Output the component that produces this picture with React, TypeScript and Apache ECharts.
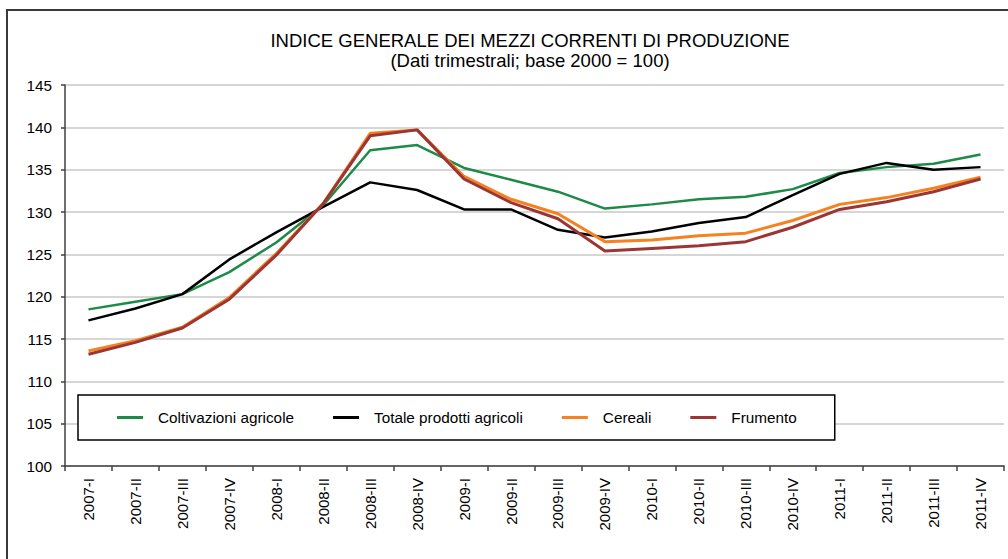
import React, { useEffect, useRef } from "react";
import * as echarts from "echarts";

const categories = [
  "2007-I", "2007-II", "2007-III", "2007-IV",
  "2008-I", "2008-II", "2008-III", "2008-IV",
  "2009-I", "2009-II", "2009-III", "2009-IV",
  "2010-I", "2010-II", "2010-III", "2010-IV",
  "2011-I", "2011-II", "2011-III", "2011-IV",
];

const coltivazioni = [118.5, 119.4, 120.3, 122.9, 126.4, 130.8, 137.3, 137.9, 135.2, 133.8, 132.4, 130.4, 130.9, 131.5, 131.8, 132.7, 134.6, 135.3, 135.7, 136.8];
const totale = [117.2, 118.6, 120.3, 124.4, 127.6, 130.6, 133.5, 132.6, 130.3, 130.3, 127.9, 127.0, 127.7, 128.7, 129.4, 132.0, 134.5, 135.8, 135.0, 135.3];
const cereali = [113.6, 114.8, 116.4, 119.9, 125.1, 131.0, 139.3, 139.7, 134.2, 131.5, 129.8, 126.5, 126.7, 127.2, 127.5, 129.0, 130.9, 131.7, 132.8, 134.1];
const frumento = [113.2, 114.6, 116.3, 119.7, 124.9, 131.0, 139.0, 139.7, 133.9, 131.1, 129.2, 125.4, 125.7, 126.0, 126.5, 128.2, 130.3, 131.2, 132.4, 133.9];

const seriesNames = ["Coltivazioni agricole", "Totale prodotti agricoli", "Cereali", "Frumento"];
const seriesColors = ["#1E8A47", "#000000", "#F5821F", "#9C3634"];

const FONT = "'Liberation Sans', Arial, sans-serif";

export default function App() {
  const ref = useRef<HTMLDivElement>(null);
  useEffect(() => {
    if (!ref.current) return;
    const chart = echarts.init(ref.current, null, { renderer: "svg" });
    const data = [coltivazioni, totale, cereali, frumento];
    chart.setOption({
      animation: false,
      backgroundColor: "#ffffff",
      textStyle: { fontFamily: FONT },
      title: {
        text: "INDICE GENERALE DEI MEZZI CORRENTI DI PRODUZIONE",
        subtext: "(Dati trimestrali; base 2000 = 100)",
        left: 530,
        top: 30,
        textAlign: "center",
        padding: 0,
        itemGap: 0,
        textStyle: { fontFamily: FONT, fontSize: 18.5, fontWeight: "normal", color: "#000", lineHeight: 20 },
        subtextStyle: { fontFamily: FONT, fontSize: 18.5, color: "#000", lineHeight: 20 },
      },
      legend: {
        data: seriesNames,
        left: 78,
        top: 395,
        orient: "horizontal",
        icon: "rect",
        itemWidth: 26,
        itemHeight: 3,
        itemGap: 39,
        padding: [14, 38, 14, 39],
        borderColor: "#000",
        borderWidth: 1.5,
        backgroundColor: "#ffffff",
        textStyle: { fontFamily: FONT, fontSize: 15.3, color: "#000", lineHeight: 17, padding: [0, 0, 0, 10] },
      },
      grid: { left: 65, top: 85, right: 4, bottom: 93, containLabel: false },
      xAxis: {
        type: "category",
        data: categories,
        boundaryGap: true,
        axisLine: { lineStyle: { color: "#404040", width: 1.5 } },
        axisTick: { show: true, interval: 0, length: 5, lineStyle: { color: "#404040", width: 1.5 } },
        axisLabel: { interval: 0, rotate: 90, margin: 12, fontSize: 15, color: "#000", fontFamily: FONT },
        splitLine: { show: false },
      },
      yAxis: {
        type: "value",
        min: 100,
        max: 145,
        interval: 5,
        axisLine: { show: true, lineStyle: { color: "#404040", width: 1.5 } },
        axisTick: { show: true, length: 4, lineStyle: { color: "#404040", width: 1.5 } },
        axisLabel: { margin: 13, fontSize: 15.3, color: "#000", fontFamily: FONT },
        splitLine: { show: true, lineStyle: { color: "#c8c8c8", width: 1.5 } },
      },
      series: data.map((d, i) => ({
        name: seriesNames[i],
        type: "line",
        data: d,
        symbol: "none",
        color: seriesColors[i],
        lineStyle: { color: seriesColors[i], width: i >= 2 ? 3 : 2.5 },
        z: 2 + i,
      })),
      graphic: [
        {
          type: "rect",
          silent: true,
          z: -1,
          shape: { x: 7, y: 10, width: 1010, height: 560 },
          style: { fill: "none", stroke: "#3a3a3a", lineWidth: 2 },
        },
      ],
    });
    return () => chart.dispose();
  }, []);
  return (
    <div
      ref={ref}
      style={{ position: "fixed", left: 0, top: 0, width: 1008, height: 559 }}
    />
  );
}
